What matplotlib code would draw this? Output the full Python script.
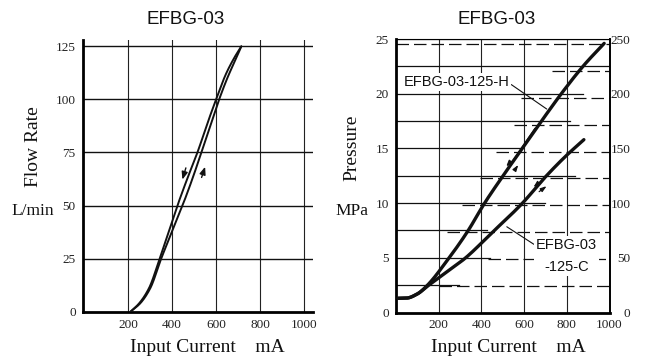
import numpy as np
import matplotlib
matplotlib.use("Agg")
import matplotlib.pyplot as plt

SERIF = "Liberation Serif"
SANS = "Liberation Sans"
INK = "#111111"

# ---- Flow rate vs input current (hysteresis loop) ----
flow_up_current = [210, 255, 300, 350, 400, 447, 490, 533, 575, 614, 655, 690, 715]
flow_up_rate = [0, 4, 11, 25, 38, 50, 62, 75, 88, 100, 111, 119, 125]
flow_down_current = [210, 250, 294, 343, 385, 424, 470, 515, 558, 600, 645, 685, 715]
flow_down_rate = [0, 4, 11, 25, 38, 50, 63, 75, 88, 100, 112, 120, 125]
flow_xticks = [200, 400, 600, 800, 1000]
flow_yticks = [0, 25, 50, 75, 100, 125]

# ---- Pressure vs input current ----
h_current = [10, 50, 100, 145, 245, 335, 415, 505, 595, 685, 782, 880, 975]
h_pressure = [1.3, 1.32, 1.7, 2.45, 4.9, 7.4, 10.0, 12.6, 15.1, 17.6, 20.2, 22.6, 24.6]
h_return_current = [530, 570, 610, 650]
h_return_pressure = [13.35, 14.5, 15.65, 16.8]
c_current = [10, 50, 100, 150, 230, 320, 455, 590, 700, 790, 880]
c_pressure = [1.3, 1.32, 1.7, 2.45, 3.6, 4.9, 7.4, 9.95, 12.4, 14.2, 15.8]
press_xticks = [200, 400, 600, 800, 1000]
press_yticks = [0, 5, 10, 15, 20, 25]
kgf_ticks = [0, 50, 100, 150, 200, 250]

# MPa grid (solid, drawn from the left) and kgf/cm2 grid (dashed, drawn to the right)
mpa_levels = [2.5, 5, 7.5, 10, 12.5, 15, 17.5, 20, 22.5, 25]
mpa_line_end = [295, 440, 425, 700, 840, 590, 815, 876, 1000, 1000]
kgf_levels = [25, 50, 75, 100, 125, 150, 175, 200, 225, 250]
kgf_line_start = [200, 430, 240, 310, 395, 467, 555, 585, 730, 0]
KGF_PER_MPA = 10.197


def pchip(x, y, n=300):
    x = np.asarray(x, float)
    y = np.asarray(y, float)
    h = np.diff(x)
    d = np.diff(y) / h
    m = np.zeros_like(y)
    for k in range(1, len(x) - 1):
        if d[k - 1] * d[k] > 0:
            w1 = 2 * h[k] + h[k - 1]
            w2 = h[k] + 2 * h[k - 1]
            m[k] = (w1 + w2) / (w1 / d[k - 1] + w2 / d[k])
    m[0] = d[0]
    m[-1] = d[-1]
    xs = np.linspace(x[0], x[-1], n)
    idx = np.clip(np.searchsorted(x, xs) - 1, 0, len(x) - 2)
    t = (xs - x[idx]) / h[idx]
    h00 = 2 * t**3 - 3 * t**2 + 1
    h10 = t**3 - 2 * t**2 + t
    h01 = -2 * t**3 + 3 * t**2
    h11 = t**3 - t**2
    ys = h00 * y[idx] + h10 * h[idx] * m[idx] + h01 * y[idx + 1] + h11 * h[idx] * m[idx + 1]
    return xs, ys


fig = plt.figure(figsize=(6.46, 3.6), dpi=100)

# ================= Left: flow rate =================
ax1 = fig.add_axes([0.1279, 0.1342, 0.3561, 0.7547])
ax1.set_xlim(-8, 1040)
ax1.set_ylim(0, 128)
for x in flow_xticks:
    ax1.axvline(x, color="#222222", lw=0.8, zorder=1)
for y in flow_yticks[1:]:
    ax1.axhline(y, color=INK, lw=1.0, zorder=1)

xu, yu = pchip(flow_up_current, flow_up_rate)
xd, yd = pchip(flow_down_current, flow_down_rate)
ax1.plot(xu, yu, color=INK, lw=1.4, zorder=3, solid_capstyle="round")
ax1.plot(xd, yd, color=INK, lw=1.4, zorder=3, solid_capstyle="round")

arrow_kw = dict(arrowstyle="-|>,head_length=0.45,head_width=0.18", color=INK, lw=1.0)
ax1.annotate("", xy=(443, 61), xytext=(466, 69), arrowprops=arrow_kw)
ax1.annotate("", xy=(554, 69.5), xytext=(530, 62), arrowprops=arrow_kw)

for side in ("top", "right"):
    ax1.spines[side].set_visible(False)
ax1.spines["left"].set_linewidth(2.0)
ax1.spines["bottom"].set_linewidth(2.0)
ax1.set_xticks(flow_xticks)
ax1.set_yticks(flow_yticks)
ax1.tick_params(length=0, labelsize=9.5, labelcolor="#222222", pad=5)
for lbl in ax1.get_xticklabels() + ax1.get_yticklabels():
    lbl.set_fontfamily(SERIF)

fig.text(186 / 646, 1 - 19 / 360, "EFBG-03", family=SANS, fontsize=13.5,
         ha="center", va="center", color=INK)
fig.text(33 / 646, 1 - 147 / 360, "Flow Rate", family=SERIF, fontsize=14,
         rotation=90, ha="center", va="center", color=INK)
fig.text(33 / 646, 1 - 211 / 360, "L/min", family=SERIF, fontsize=12.5,
         ha="center", va="center", color=INK)
fig.text(207 / 646, 1 - 347 / 360, "Input Current    mA", family=SERIF, fontsize=14,
         ha="center", va="center", color=INK)

# ================= Right: pressure =================
ax2 = fig.add_axes([0.6130, 0.1319, 0.3305, 0.7597])
ax2.set_xlim(0, 1000)
ax2.set_ylim(0, 25)
for x in press_xticks[:-1]:
    ax2.axvline(x, color="#222222", lw=0.8, zorder=1)
for lvl, x_end in zip(mpa_levels, mpa_line_end):
    ax2.plot([0, x_end], [lvl, lvl], color=INK, lw=0.9, zorder=1)
for lvl, x_start in zip(kgf_levels, kgf_line_start):
    ax2.plot([x_start, 1000], [lvl / KGF_PER_MPA] * 2, color=INK, lw=0.9,
             ls=(0, (10, 4)), zorder=1)

hx, hy = pchip(h_current, h_pressure)
cx, cy = pchip(c_current, c_pressure)
rx, ry = pchip(h_return_current, h_return_pressure, 100)
ax2.plot(hx, hy, color=INK, lw=2.4, zorder=3, solid_capstyle="round")
ax2.plot(rx, ry, color=INK, lw=1.0, zorder=3)
ax2.plot(cx, cy, color=INK, lw=2.4, zorder=3, solid_capstyle="round")

small_arrow = dict(arrowstyle="-|>,head_length=0.35,head_width=0.12", color=INK, lw=0.9)
ax2.annotate("", xy=(508, 13.15), xytext=(542, 13.95), arrowprops=small_arrow)
ax2.annotate("", xy=(580, 13.7), xytext=(550, 12.85), arrowprops=small_arrow)
ax2.annotate("", xy=(634, 11.3), xytext=(676, 12.0), arrowprops=small_arrow)
ax2.annotate("", xy=(716, 11.7), xytext=(660, 10.9), arrowprops=small_arrow)

ax2.annotate("EFBG-03-125-H", xy=(706, 18.6), xycoords="data",
             xytext=(34, 21.1), textcoords="data", family=SANS, fontsize=10.5,
             ha="left", va="center", color=INK, zorder=5,
             bbox=dict(boxstyle="square,pad=0.15", fc="white", ec="none"),
             arrowprops=dict(arrowstyle="-", color=INK, lw=0.8,
                             relpos=(1.0, 0.4), shrinkA=0, shrinkB=0))
ax2.annotate("EFBG-03\n-125-C", xy=(519, 7.84), xycoords="data",
             xytext=(799, 5.18), textcoords="data", family=SANS, fontsize=10.5,
             ha="center", va="center", color=INK, zorder=5, linespacing=1.75,
             bbox=dict(boxstyle="square,pad=0.15", fc="white", ec="none"),
             arrowprops=dict(arrowstyle="-", color=INK, lw=0.8,
                             relpos=(0.0, 0.78), shrinkA=0, shrinkB=0))

ax2.spines["left"].set_linewidth(2.0)
ax2.spines["bottom"].set_linewidth(2.0)
ax2.spines["right"].set_linewidth(1.4)
ax2.spines["top"].set_linewidth(0.8)
ax2.set_xticks(press_xticks)
ax2.set_yticks(press_yticks)
ax2.tick_params(length=0, labelsize=9.5, labelcolor="#222222", pad=5)
for lbl in ax2.get_xticklabels() + ax2.get_yticklabels():
    lbl.set_fontfamily(SERIF)

ax3 = ax2.twinx()
ax3.set_ylim(0, 250)
ax3.set_yticks(kgf_ticks)
ax3.tick_params(length=0, labelsize=9.5, labelcolor="#222222", pad=15)
for s in ax3.spines.values():
    s.set_visible(False)
for lbl in ax3.get_yticklabels():
    lbl.set_fontfamily(SERIF)
    lbl.set_horizontalalignment("right")

fig.text(497 / 646, 1 - 19 / 360, "EFBG-03", family=SANS, fontsize=13.5,
         ha="center", va="center", color=INK)
fig.text(352 / 646, 1 - 148 / 360, "Pressure", family=SERIF, fontsize=14,
         rotation=90, ha="center", va="center", color=INK)
fig.text(352 / 646, 1 - 211 / 360, "MPa", family=SERIF, fontsize=12.5,
         ha="center", va="center", color=INK)
fig.text(508 / 646, 1 - 347 / 360, "Input Current    mA", family=SERIF, fontsize=14,
         ha="center", va="center", color=INK)

fig.savefig("out.png", dpi=100, facecolor="white")
